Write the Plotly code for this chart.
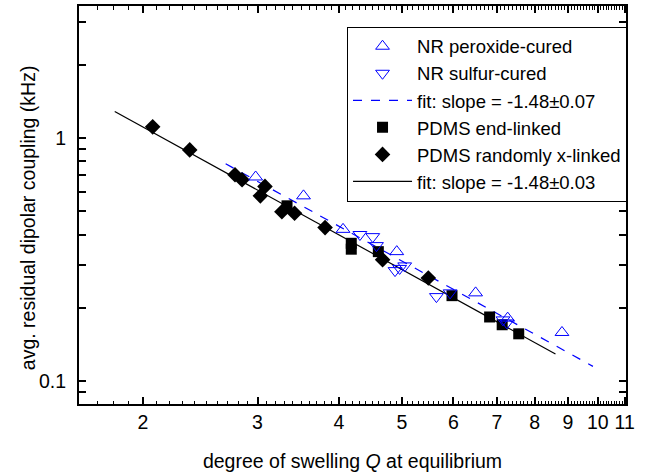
import numpy as np
import plotly.graph_objects as go

# NR peroxide-cured (open up triangles)
nr_perox_q = [2.98, 3.53, 4.06, 4.91, 6.49, 7.27, 8.81]
nr_perox_d = [0.69, 0.577, 0.42, 0.34, 0.23, 0.181, 0.158]

# NR sulfur-cured (open down triangles)
nr_sulf_q = [4.31, 4.51, 4.57, 4.88, 4.96, 5.05, 5.65, 5.93, 7.15, 7.25]
nr_sulf_d = [0.40, 0.392, 0.36, 0.284, 0.29, 0.297, 0.222, 0.230, 0.178, 0.173]

# PDMS end-linked (filled squares)
pdms_end_q = [3.33, 4.18, 4.18, 4.60, 5.97, 6.82, 7.13, 7.56]
pdms_end_d = [0.525, 0.368, 0.348, 0.340, 0.224, 0.183, 0.170, 0.156]

# PDMS randomly x-linked (filled diamonds)
pdms_rand_q = [2.07, 2.36, 2.77, 2.84, 3.03, 3.08, 3.27, 3.42, 3.81, 4.67, 5.49]
pdms_rand_d = [1.11, 0.892, 0.705, 0.672, 0.577, 0.631, 0.496, 0.489, 0.427, 0.315, 0.265]

# fit lines (end points)
fit_nr_q = [2.68, 9.83]
fit_nr_d = [0.782, 0.1146]
fit_pdms_q = [1.81, 8.61]
fit_pdms_d = [1.283, 0.1288]

x_major = [2, 3, 4, 5, 6, 7, 8, 9, 10, 11]
x_minor = [round(v / 10, 1) for v in range(16, 111) if v % 10 != 0]
y_ticks = [0.08, 0.09, 0.1, 0.2, 0.3, 0.4, 0.5, 0.6, 0.7, 0.8, 0.9, 1, 2, 3]
y_labels = ["", "", "0.1", "", "", "", "", "", "", "", "", "1", "", ""]

BLUE = "#0000FF"
FONT = "Liberation Sans, Arial, sans-serif"

fig = go.Figure()

fig.add_trace(go.Scatter(x=fit_pdms_q, y=fit_pdms_d, mode="lines",
                         line=dict(color="black", width=1.2),
                         name="fit: slope = -1.48±0.03", legendrank=6))
fig.add_trace(go.Scatter(x=fit_nr_q, y=fit_nr_d, mode="lines",
                         line=dict(color=BLUE, width=1.2, dash="dash"),
                         name="fit: slope = -1.48±0.07", legendrank=3))
fig.add_trace(go.Scatter(x=pdms_end_q, y=pdms_end_d, mode="markers",
                         marker=dict(symbol="square", size=11, color="black"),
                         name="PDMS end-linked", legendrank=4))
fig.add_trace(go.Scatter(x=pdms_rand_q, y=pdms_rand_d, mode="markers",
                         marker=dict(symbol="diamond", size=12, color="black"),
                         name="PDMS randomly x-linked", legendrank=5))
fig.add_trace(go.Scatter(x=nr_perox_q, y=nr_perox_d, mode="markers",
                         marker=dict(symbol="triangle-up-open", size=12, color=BLUE,
                                     line=dict(width=1, color=BLUE)),
                         name="NR peroxide-cured", legendrank=1))
fig.add_trace(go.Scatter(x=nr_sulf_q, y=nr_sulf_d, mode="markers",
                         marker=dict(symbol="triangle-down-open", size=12, color=BLUE,
                                     line=dict(width=1, color=BLUE)),
                         name="NR sulfur-cured", legendrank=2))

axis_common = dict(
    type="log", showgrid=False, zeroline=False, automargin=False,
    showline=True, linecolor="black", linewidth=2, mirror="ticks",
    ticks="inside", tickcolor="black", tickwidth=1.5,
    tickfont=dict(family=FONT, size=19.5, color="black"),
)

fig.update_xaxes(
    **axis_common,
    range=[np.log10(1.595), np.log10(11.05)],
    tickmode="array", tickvals=x_major, ticktext=[str(v) for v in x_major],
    ticklen=7, ticklabelstandoff=0,
    minor=dict(tickmode="array", tickvals=x_minor, ticks="inside", ticklen=3.5,
               tickcolor="black", tickwidth=1.2, showgrid=False),
    title=dict(text="degree of swelling <i>Q</i> at equilibrium",
               font=dict(family=FONT, size=19.5, color="black"), standoff=22),
)
fig.update_yaxes(
    **axis_common,
    range=[np.log10(0.0802), np.log10(3.49)],
    tickmode="array", tickvals=y_ticks, ticktext=y_labels,
    ticklen=7, ticklabelstandoff=7,
)

fig.update_layout(
    width=666, height=475,
    margin=dict(l=79, r=40, t=6, b=71),
    plot_bgcolor="white", paper_bgcolor="white",
    font=dict(family=FONT, size=19.5, color="black"),
    legend=dict(
        x=0.49, y=0.948, xanchor="left", yanchor="top",
        bgcolor="white", bordercolor="black", borderwidth=1,
        font=dict(family=FONT, size=18.5, color="black"),
        itemwidth=59, tracegroupgap=0, entrywidth=283,
    ),
    annotations=[dict(
        text="avg. residual dipolar coupling (kHz)", textangle=-90,
        xref="paper", yref="paper", x=-0.0932, y=0.467,
        xanchor="center", yanchor="middle", showarrow=False,
        font=dict(family=FONT, size=19.5, color="black"),
    )],
)

fig.write_html("out.html", config={"displayModeBar": False},
               post_script="document.body.style.margin='0';")
